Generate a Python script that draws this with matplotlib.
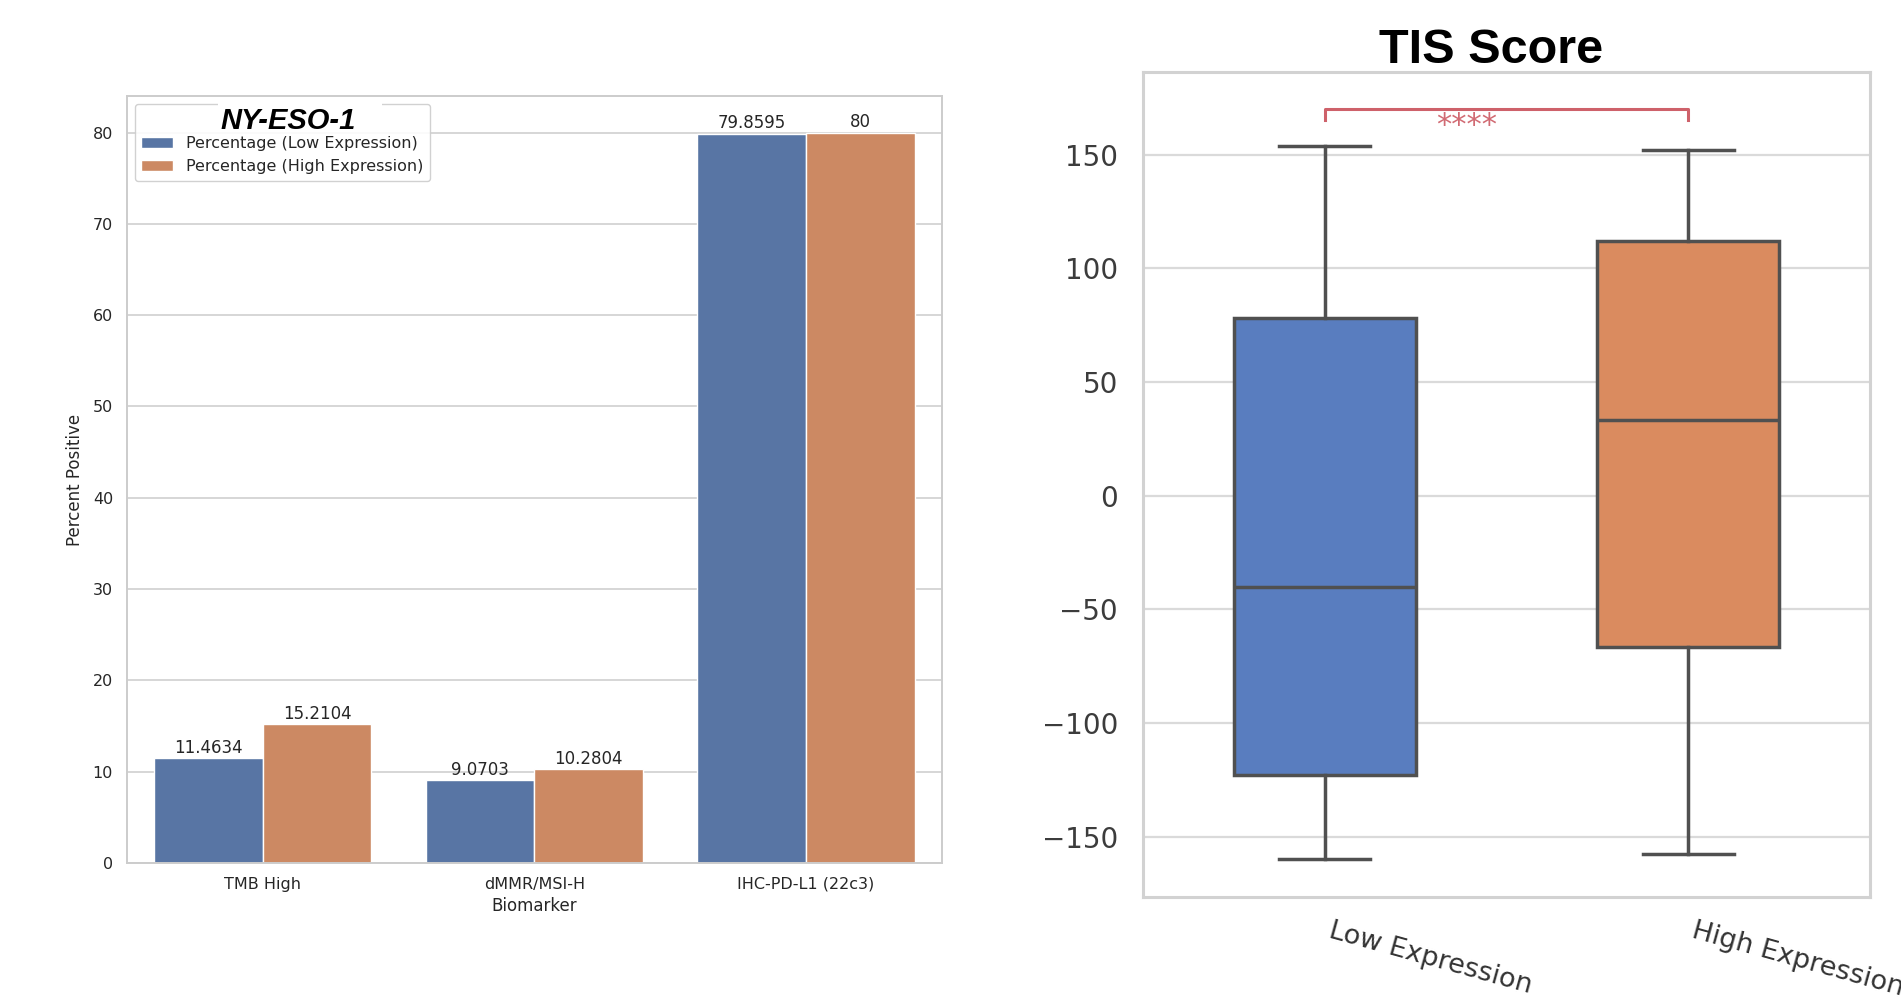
import numpy as np
import matplotlib.pyplot as plt
from matplotlib.patches import Rectangle
from matplotlib.transforms import ScaledTranslation

# Biomarker positivity by NY-ESO-1 expression group
biomarkers = ['TMB High', 'dMMR/MSI-H', 'IHC-PD-L1 (22c3)']
pct_low = [11.4634, 9.0703, 79.8595]
pct_high = [15.2104, 10.2804, 80.0]
series_names = ['Percentage (Low Expression)', 'Percentage (High Expression)']

# TIS score distribution (box summary) per expression group
groups = ['Low Expression', 'High Expression']
tis_whislo = [-160.1, -157.9]
tis_q1 = [-123.0, -66.8]
tis_med = [-40.3, 33.3]
tis_q3 = [78.2, 112.2]
tis_whishi = [154.1, 152.0]
sig_label = '****'

bar_colors = ['#5875a4', '#cc8963']
box_colors = ['#597dbf', '#da8b5f']
txt = '#262626'
spine_c = '#cccccc'

fig = plt.figure(figsize=(19.01, 10.02), dpi=100)

# ---- left panel: grouped bars
ax = fig.add_axes([0.0668, 0.1387, 0.4287, 0.7655])
x = np.arange(len(biomarkers))
w = 0.4
b1 = ax.bar(x - w / 2, pct_low, w, color=bar_colors[0], edgecolor='white', linewidth=1, label=series_names[0], zorder=2)
b2 = ax.bar(x + w / 2, pct_high, w, color=bar_colors[1], edgecolor='white', linewidth=1, label=series_names[1], zorder=2)
ax.bar_label(b1, fmt='%g', fontsize=12, color=txt, padding=1)
ax.bar_label(b2, fmt='%g', fontsize=12, color=txt, padding=1)
ax.set_xlim(-0.5, 2.5)
ax.set_ylim(0, 84)
ax.set_yticks(np.arange(0, 81, 10))
ax.set_xticks(x)
ax.set_xticklabels(biomarkers)
ax.tick_params(length=0, labelsize=11.5, labelcolor=txt)
ax.tick_params(axis='y', pad=10)
ax.tick_params(axis='x', pad=10)
ax.grid(axis='y', color=spine_c, lw=1.1, zorder=0)
ax.set_axisbelow(True)
for s in ax.spines.values():
    s.set_color(spine_c)
    s.set_linewidth(1.4)
ax.set_xlabel('Biomarker', fontsize=12, color=txt, labelpad=4)
ax.set_ylabel('Percent Positive', fontsize=12, color=txt, labelpad=6)
leg = ax.legend(loc='upper left', fontsize=11.5, title=' ', title_fontsize=12,
                frameon=True, edgecolor=spine_c, framealpha=0.9, fancybox=True)
for t in leg.get_texts():
    t.set_color(txt)

# title sits on the legend's top edge, breaking the frame line
fig.patches.append(Rectangle((218 / 1901, 1 - 112 / 1002), 164 / 1901, 14 / 1002,
                             transform=fig.transFigure, facecolor='white',
                             edgecolor='none', zorder=9))
fig.text(288.5 / 1901, 1 - 129 / 1002, 'NY-ESO-1', family='Liberation Sans', fontsize=21,
         fontweight='bold', fontstyle='italic', ha='center', va='baseline', zorder=10)

# ---- right panel: TIS score boxes
ax2 = fig.add_axes([0.6013, 0.1048, 0.3824, 0.8234])
stats = []
for i, g in enumerate(groups):
    stats.append(dict(label=g, whislo=tis_whislo[i], q1=tis_q1[i], med=tis_med[i],
                      q3=tis_q3[i], whishi=tis_whishi[i], fliers=[]))
line_c = '#505050'
bp = ax2.bxp(stats, positions=[0, 1], widths=0.5, capwidths=0.25, patch_artist=True,
             showfliers=False,
             boxprops=dict(edgecolor=line_c, linewidth=2.5),
             medianprops=dict(color=line_c, linewidth=2.5),
             whiskerprops=dict(color=line_c, linewidth=2.5),
             capprops=dict(color=line_c, linewidth=2.5))
for patch, c in zip(bp['boxes'], box_colors):
    patch.set_facecolor(c)
ax2.set_xlim(-0.5, 1.5)
ax2.set_ylim(-176.6, 186.5)
ax2.set_yticks(np.arange(-150, 151, 50))
ax2.grid(axis='y', color='#dadada', lw=1.6, zorder=0)
ax2.set_axisbelow(True)
for s in ax2.spines.values():
    s.set_color('#d2d2d2')
    s.set_linewidth(2.2)
ax2.tick_params(length=0)
ax2.tick_params(axis='y', labelsize=20, labelcolor='#3c3c3c', pad=18)
ax2.tick_params(axis='x', labelsize=19.5, labelcolor='#333333', pad=15)
shift = ScaledTranslation(0.08, 0, fig.dpi_scale_trans)
for lab in ax2.get_xticklabels():
    lab.set_rotation(-15.5)
    lab.set_ha('left')
    lab.set_va('top')
    lab.set_rotation_mode('anchor')
    lab.set_transform(lab.get_transform() + shift)

# significance bracket
sig_c = '#c9505a'
ax2.plot([0, 0, 1, 1], [165.2, 170.3, 170.3, 165.2], color=sig_c, lw=2.2, alpha=0.9)
ax2.text(0.39, 163.0, sig_label, color=sig_c, fontsize=22, ha='center', va='center', alpha=0.85)

fig.text(1491 / 1901, 1 - 63 / 1002, 'TIS Score', family='Liberation Sans', fontsize=35,
         fontweight='bold', ha='center', va='baseline')

fig.savefig('out.png', dpi=100, facecolor='white')
